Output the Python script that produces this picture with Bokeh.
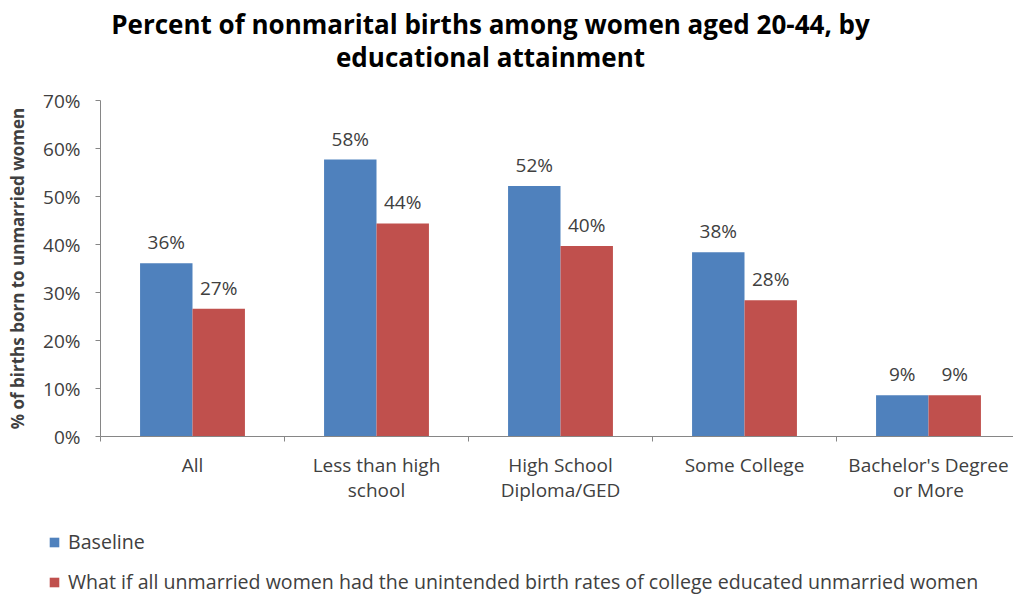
import numpy as np
from bokeh.plotting import figure
from bokeh.models import (ColumnDataSource, Range1d, FixedTicker, CustomJSTickFormatter,
                          NumeralTickFormatter, Label, Legend, LegendItem)
from bokeh.embed import file_html
from bokeh.resources import INLINE

# Education categories (newlines break the axis labels)
categories = ["All", "Less than high\nschool", "High School\nDiploma/GED",
              "Some College", "Bachelor's Degree\nor More"]
# Share of births to unmarried women
baseline = [0.361, 0.577, 0.522, 0.384, 0.086]
what_if = [0.266, 0.444, 0.397, 0.284, 0.086]
series_names = ["Baseline",
                "What if all unmarried women had the unintended birth rates of college educated unmarried women"]
y_ticks = [0.0, 0.1, 0.2, 0.3, 0.4, 0.5, 0.6, 0.7]
title_lines = ["Percent of nonmarital births among women aged 20-44, by",
               "educational attainment"]

BLUE = "#4F81BD"
RED = "#C0504D"
TEXT = "#404040"
AXIS = "#868686"
FONT = "Open Sans"
W, H = 1013, 596

# Page geometry: the plotting frame fills the whole page, the axes are pinned
# at zero so that the title and legend can sit around them unclipped.
AX_LEFT, AX_BOTTOM, AX_TOP = 100, 436, 100      # pixel position of the axes
PX_PER_CAT = 184                                 # pixels per category
PX_PER_UNIT = (AX_BOTTOM - AX_TOP) / max(y_ticks)

x_start = -AX_LEFT / PX_PER_CAT
x_end = (W - AX_LEFT) / PX_PER_CAT
y_start = -(H - AX_BOTTOM) / PX_PER_UNIT
y_end = max(y_ticks) + AX_TOP / PX_PER_UNIT

centers = np.arange(len(categories)) + 0.5
bar_w = 0.285

src_a = ColumnDataSource(dict(x=centers - bar_w / 2, top=baseline,
                              lab=[f"{v * 100:.0f}%" for v in baseline]))
src_b = ColumnDataSource(dict(x=centers + bar_w / 2, top=what_if,
                              lab=[f"{v * 100:.0f}%" for v in what_if]))

p = figure(width=W, height=H, output_backend="svg", toolbar_location=None,
           x_range=Range1d(x_start, x_end), y_range=Range1d(y_start, y_end),
           min_border=0)
p.outline_line_color = None
p.grid.grid_line_color = None

r_a = p.vbar(x="x", top="top", width=bar_w, source=src_a, fill_color=BLUE, line_color=None)
r_b = p.vbar(x="x", top="top", width=bar_w, source=src_b, fill_color=RED, line_color=None)

for src in (src_a, src_b):
    p.text(x="x", y="top", text="lab", source=src, text_align="center",
           text_baseline="middle", y_offset=-21, text_font_size="19px",
           text_color=TEXT, text_font={"value": FONT})

# x axis: labels at category centres, tick marks at category boundaries
xa = p.xaxis[0]
xa.fixed_location = 0
xa.bounds = (0, x_end)
xa.ticker = FixedTicker(ticks=list(centers), minor_ticks=list(range(len(categories) + 1)))
xa.formatter = CustomJSTickFormatter(args=dict(labels=categories),
                                     code="return labels[Math.floor(tick)]")
xa.major_tick_out = 0
xa.major_tick_in = 0
xa.minor_tick_out = 5
xa.minor_tick_in = 0
xa.minor_tick_line_color = AXIS
xa.axis_line_color = AXIS
xa.major_label_standoff = 10
xa.major_label_text_font = FONT
xa.major_label_text_font_size = "19px"
xa.major_label_text_color = TEXT
xa.major_label_text_line_height = 0.97

ya = p.yaxis[0]
ya.fixed_location = 0
ya.bounds = (0, max(y_ticks))
ya.ticker = FixedTicker(ticks=y_ticks)
ya.formatter = NumeralTickFormatter(format="0%")
ya.minor_tick_line_color = None
ya.major_tick_out = 5
ya.major_tick_in = 0
ya.major_tick_line_color = AXIS
ya.axis_line_color = AXIS
ya.major_label_standoff = 15
ya.major_label_text_font = FONT
ya.major_label_text_font_size = "19px"
ya.major_label_text_color = TEXT
ya.axis_label = "% of births born to unmarried women"
ya.axis_label_text_font = FONT
ya.axis_label_text_font_style = "bold"
ya.axis_label_text_font_size = "17px"
ya.axis_label_text_color = TEXT
ya.axis_label_standoff = 11

# two-line title (y measured down from the top of the page)
for txt, from_top in zip(title_lines, (23, 56)):
    p.add_layout(Label(x=490, y=H - from_top, x_units="screen", y_units="screen",
                       text=txt, text_align="center", text_baseline="alphabetic",
                       text_font=FONT, text_font_style="bold",
                       text_font_size="26px", text_color="black"))

legend = Legend(items=[LegendItem(label=series_names[0], renderers=[r_a]),
                       LegendItem(label=series_names[1], renderers=[r_b])],
                location=(48, 1), orientation="vertical",
                glyph_width=12, glyph_height=12, label_height=24, spacing=13,
                padding=0, margin=0, label_standoff=8, label_text_font=FONT,
                label_text_font_size="19.6px", label_text_color=TEXT,
                border_line_color=None, background_fill_alpha=0)
p.add_layout(legend, "center")

open("out.html", "w").write(file_html(p, INLINE))
